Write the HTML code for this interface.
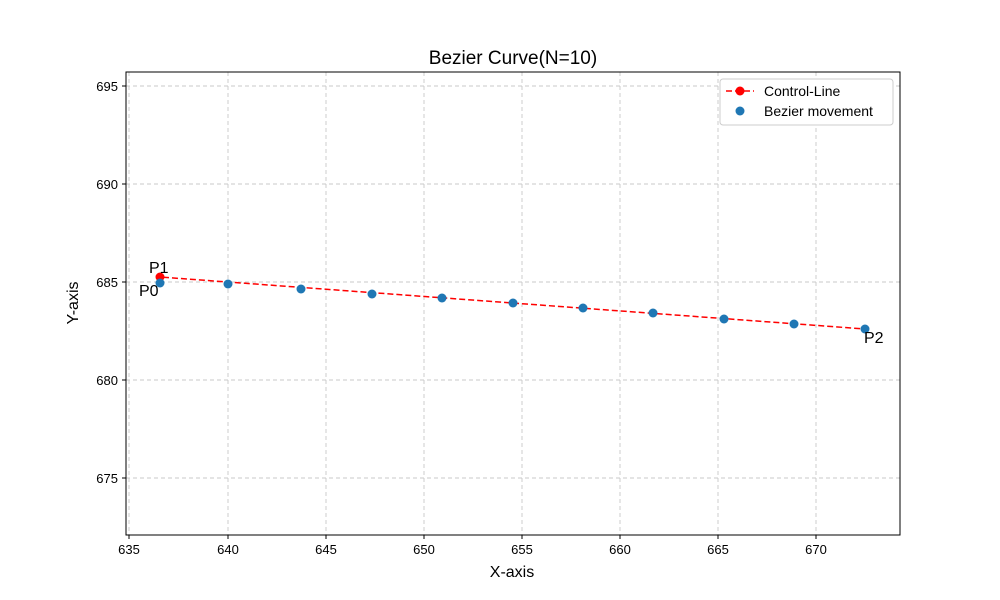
<!DOCTYPE html>
<html><head><meta charset="utf-8"><style>body{margin:0;background:#fff}svg{display:block;font-family:"Liberation Sans",sans-serif}</style></head>
<body>
<svg width="1000" height="600" viewBox="0 0 1000 600" xmlns="http://www.w3.org/2000/svg">
<rect width="1000" height="600" fill="#fff"/>
<g stroke="#c8c8c8" stroke-dasharray="4,3" stroke-width="0.9">
<line x1="129" y1="72" x2="129" y2="535"/><line x1="228" y1="72" x2="228" y2="535"/><line x1="326" y1="72" x2="326" y2="535"/><line x1="424" y1="72" x2="424" y2="535"/><line x1="522" y1="72" x2="522" y2="535"/><line x1="620" y1="72" x2="620" y2="535"/><line x1="718" y1="72" x2="718" y2="535"/><line x1="816" y1="72" x2="816" y2="535"/>
<line x1="126" y1="86" x2="900" y2="86"/><line x1="126" y1="184" x2="900" y2="184"/><line x1="126" y1="282" x2="900" y2="282"/><line x1="126" y1="380" x2="900" y2="380"/><line x1="126" y1="478" x2="900" y2="478"/>
</g>
<polyline points="160,283 160,277 865,329" fill="none" stroke="#ff0000" stroke-width="1.5" stroke-dasharray="6,3"/>
<circle cx="160" cy="277" r="4.5" fill="#ff0000"/>
<g fill="#1f77b4">
<circle cx="160" cy="283" r="4.5"/><circle cx="228" cy="284" r="4.5"/><circle cx="301" cy="289" r="4.5"/><circle cx="372" cy="294" r="4.5"/><circle cx="442" cy="298" r="4.5"/><circle cx="513" cy="303" r="4.5"/><circle cx="583" cy="308" r="4.5"/><circle cx="653" cy="313" r="4.5"/><circle cx="724" cy="319" r="4.5"/><circle cx="794" cy="324" r="4.5"/><circle cx="865" cy="329" r="4.5"/>
</g>
<g font-size="16" fill="#000">
<text x="149" y="273">P1</text><text x="139" y="296">P0</text><text x="864" y="343">P2</text>
</g>
<rect x="126" y="72" width="774" height="463" fill="none" stroke="#000" stroke-width="1"/>
<g stroke="#000"><line x1="129" y1="535" x2="129" y2="539"/><line x1="228" y1="535" x2="228" y2="539"/><line x1="326" y1="535" x2="326" y2="539"/><line x1="424" y1="535" x2="424" y2="539"/><line x1="522" y1="535" x2="522" y2="539"/><line x1="620" y1="535" x2="620" y2="539"/><line x1="718" y1="535" x2="718" y2="539"/><line x1="816" y1="535" x2="816" y2="539"/>
<line x1="122" y1="86" x2="126" y2="86"/><line x1="122" y1="184" x2="126" y2="184"/><line x1="122" y1="282" x2="126" y2="282"/><line x1="122" y1="380" x2="126" y2="380"/><line x1="122" y1="478" x2="126" y2="478"/></g>
<g font-size="13" text-anchor="middle"><text x="129" y="554">635</text><text x="228" y="554">640</text><text x="326" y="554">645</text><text x="424" y="554">650</text><text x="522" y="554">655</text><text x="620" y="554">660</text><text x="718" y="554">665</text><text x="816" y="554">670</text></g>
<g font-size="13" text-anchor="end"><text x="118" y="91">695</text><text x="118" y="189">690</text><text x="118" y="287">685</text><text x="118" y="385">680</text><text x="118" y="483">675</text></g>
<text x="512" y="577" font-size="16" text-anchor="middle">X-axis</text>
<text transform="translate(78,303) rotate(-90)" font-size="16" text-anchor="middle">Y-axis</text>
<text x="513" y="64" font-size="19" text-anchor="middle">Bezier Curve(N=10)</text>
<rect x="720" y="79" width="173" height="46" rx="3" fill="#fff" stroke="#ccc"/>
<line x1="726" y1="91" x2="754" y2="91" stroke="#ff0000" stroke-width="1.5" stroke-dasharray="6,3"/>
<circle cx="740" cy="91" r="4.5" fill="#ff0000"/>
<circle cx="740" cy="111" r="4.5" fill="#1f77b4"/>
<text x="764" y="96" font-size="14">Control-Line</text>
<text x="764" y="116" font-size="14">Bezier movement</text>
</svg>
</body></html>
